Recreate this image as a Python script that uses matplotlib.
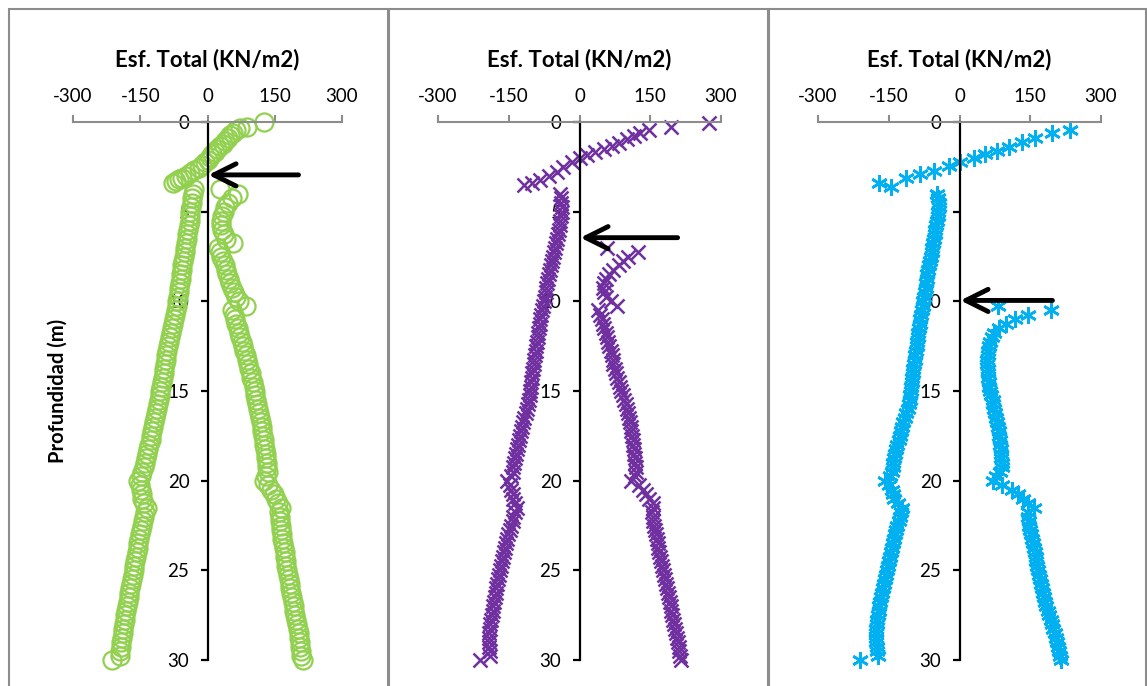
import matplotlib.pyplot as plt
from matplotlib.patches import Rectangle

plt.rcParams['font.family'] = ['Lato', 'DejaVu Sans']
plt.rcParams['axes.unicode_minus'] = False

# depth grid shared by the lower branches (m)
depth_grid = [3.75, 4.0, 4.25, 4.5, 4.75, 5.0, 5.25, 5.5, 5.75, 6.0,
              6.25, 6.5, 6.75, 7.0, 7.25, 7.5, 7.75, 8.0, 8.25, 8.5,
              8.75, 9.0, 9.25, 9.5, 9.75, 10.0, 10.25, 10.5, 10.75, 11.0,
              11.25, 11.5, 11.75, 12.0, 12.25, 12.5, 12.75, 13.0, 13.25, 13.5,
              13.75, 14.0, 14.25, 14.5, 14.75, 15.0, 15.25, 15.5, 15.75, 16.0,
              16.25, 16.5, 16.75, 17.0, 17.25, 17.5, 17.75, 18.0, 18.25, 18.5,
              18.75, 19.0, 19.25, 19.5, 19.75, 20.0, 20.25, 20.5, 20.75, 21.0,
              21.25, 21.5, 21.75, 22.0, 22.25, 22.5, 22.75, 23.0, 23.25, 23.5,
              23.75, 24.0, 24.25, 24.5, 24.75, 25.0, 25.25, 25.5, 25.75, 26.0,
              26.25, 26.5, 26.75, 27.0, 27.25, 27.5, 27.75, 28.0, 28.25, 28.5,
              28.75, 29.0, 29.25, 29.5, 29.75, 30.0]

# ---- panel 1 (green circles)
p1_top_depth = [0.0, 0.28, 0.35, 0.45, 0.6, 0.75, 0.9, 1.05, 1.2, 1.35, 1.5, 1.65,
                1.8, 1.95, 2.1, 2.25, 2.4, 2.55, 2.7, 2.85, 3.0, 3.1, 3.2, 3.3, 3.4]
p1_top_esf = [125, 89, 72, 64, 57, 51, 46, 40, 34, 28, 22, 16,
              10, 5, 0, -6, -13, -20, -29, -38, -47, -56, -63, -70, -78]
p1_left_esf = [-30, -33, -34, -35, -36, -38, -39, -40, -42, -43,
               -45, -46, -48, -50, -51, -53, -54, -56, -57, -59,
               -60, -62, -63, -64, -66, -67, -69, -71, -73, -75,
               -77, -79, -81, -84, -86, -88, -90, -92, -93, -95,
               -97, -98, -100, -102, -103, -105, -107, -109, -111, -113,
               -115, -117, -119, -121, -123, -125, -127, -130, -132, -135,
               -137, -140, -142, -145, -148, -154, -150, -148, -147, -145,
               -141, -136, -140, -142, -144, -146, -148, -150, -152, -154,
               -156, -158, -160, -161, -163, -165, -167, -169, -171, -173,
               -174, -176, -178, -180, -182, -183, -185, -186, -188, -189,
               -191, -193, -194, -195, -196, -213]
p1_right_esf = [28, 68, 55, 46, 40, 36, 33, 31, 31, 33,
                36, 41, 56, 24, 27, 30, 34, 38, 41, 44,
                47, 51, 55, 60, 64, 70, 85, 55, 58, 61,
                64, 67, 70, 73, 76, 79, 82, 85, 88, 91,
                93, 96, 98, 101, 103, 105, 107, 109, 111, 113,
                115, 117, 119, 121, 122, 124, 125, 127, 128, 130,
                131, 132, 133, 134, 130, 126, 136, 142, 148, 153,
                158, 163, 160, 161, 162, 163, 165, 166, 167, 169,
                170, 172, 173, 175, 176, 178, 180, 181, 183, 185,
                187, 188, 190, 192, 194, 196, 198, 200, 201, 203,
                204, 206, 207, 208, 209, 212]

# ---- panel 2 (purple crosses)
p2_top_depth = [0.07, 0.26, 0.45, 0.63, 0.78, 0.97, 1.15, 1.32, 1.5, 1.65,
                1.84, 2.03, 2.25, 2.49, 2.77, 3.0, 3.23, 3.38, 3.51]
p2_top_esf = [274, 193, 147, 129, 115, 101, 83, 69, 51, 33,
              16, 1, -16, -34, -48, -65, -83, -100, -118]
p2_left_esf = [-42, -40, -39, -38, -38, -39, -41, -42, -44, -46,
               -48, -50, -52, -54, -56, -58, -60, -62, -64, -66,
               -68, -70, -72, -74, -76, -78, -79, -81, -83, -84,
               -86, -87, -89, -90, -92, -93, -95, -96, -97, -99,
               -100, -101, -102, -103, -104, -106, -107, -109, -111, -114,
               -117, -120, -122, -124, -126, -128, -130, -132, -134, -136,
               -138, -140, -142, -145, -153, -148, -145, -142, -140, -137,
               -133, -137, -140, -142, -145, -148, -151, -153, -156, -159,
               -161, -163, -165, -167, -169, -171, -173, -174, -176, -178,
               -179, -181, -183, -184, -186, -188, -189, -190, -191, -191,
               -192, -192, -190, -189, -210]
p2_right_esf = [59, 125, 103, 92, 83, 72, 63, 56, 52, 50,
                51, 56, 66, 80, 40, 44, 47, 50, 53, 56,
                59, 61, 63, 66, 68, 70, 72, 75, 78, 80,
                83, 86, 89, 92, 95, 98, 101, 103, 105, 107,
                109, 110, 112, 113, 114, 115, 116, 117, 118, 119,
                119, 117, 110, 126, 134, 141, 148, 155, 156, 154,
                155, 156, 158, 160, 162, 164, 166, 167, 169, 171,
                173, 175, 177, 179, 181, 183, 185, 187, 189, 191,
                193, 195, 197, 199, 201, 203, 205, 207, 209, 210,
                212, 213, 215]

# ---- panel 3 (blue asterisks)
p3_top_depth = [0.45, 0.63, 0.87, 1.1, 1.38, 1.6, 1.78, 2.03, 2.25, 2.44,
                2.71, 2.9, 3.14, 3.38, 3.6]
p3_top_esf = [235, 196, 161, 133, 104, 80, 55, 30, 2, -23,
              -55, -83, -114, -171, -146]
p3_left_esf = [-47, -45, -44, -44, -45, -46, -48, -49, -51, -53,
               -54, -56, -58, -59, -61, -63, -64, -66, -68, -69,
               -71, -72, -74, -75, -77, -78, -80, -81, -83, -84,
               -86, -87, -88, -90, -91, -92, -94, -95, -96, -98,
               -99, -100, -101, -102, -103, -105, -106, -108, -110, -113,
               -116, -119, -122, -124, -127, -129, -132, -134, -136, -138,
               -140, -142, -144, -147, -157, -150, -143, -141, -139, -130,
               -121, -124, -127, -129, -132, -134, -137, -139, -141, -143,
               -146, -148, -150, -152, -154, -156, -158, -160, -162, -164,
               -166, -168, -170, -171, -173, -174, -175, -176, -177, -177,
               -176, -175, -174, -173, -210]
p3_right_esf = [81, 193, 146, 118, 98, 84, 73, 68, 65, 63,
                61, 60, 59, 59, 60, 60, 61, 62, 63, 65,
                67, 70, 72, 74, 76, 78, 80, 82, 83, 84,
                85, 86, 87, 88, 89, 90, 90, 86, 78, 72,
                90, 112, 124, 134, 146, 157, 146, 146, 147, 148,
                150, 152, 154, 156, 158, 160, 162, 163, 165, 167,
                169, 171, 173, 175, 177, 179, 182, 184, 187, 190,
                193, 196, 199, 202, 205, 207, 209, 211, 213, 215]

# arrows: (depth, tail value)
p1_arrow = (2.95, 203)
p2_arrow = (6.45, 208)
p3_arrow = (9.95, 197)

W, H = 1147, 686
fig = plt.figure(figsize=(W / 100, H / 100), dpi=100)

# chart frames
for x0, x1 in [(9, 388), (389, 768), (769, 1146)]:
    fig.add_artist(Rectangle((x0 / W, -0.02), (x1 - x0) / W, 1.02 - 9 / H,
                             transform=fig.transFigure, fill=False,
                             ec='#8c8c8c', lw=1.5))


def setup(ax):
    ax.set_xlim(-300, 300)
    ax.set_ylim(30, 0)
    ax.patch.set_alpha(0)
    ax.xaxis.tick_top()
    ax.set_xticks([-300, -150, 0, 150, 300])
    ax.set_yticks([0, 5, 10, 15, 20, 25, 30])
    ax.spines['right'].set_visible(False)
    ax.spines['bottom'].set_visible(False)
    ax.spines['top'].set_color('#8c8c8c')
    ax.spines['top'].set_linewidth(1.5)
    ax.spines['left'].set_position(('data', 0))
    ax.spines['left'].set_color('black')
    ax.spines['left'].set_linewidth(1.6)
    ax.tick_params(axis='x', direction='out', length=5, width=1.5,
                   color='#8c8c8c', labelsize=13.5, pad=7)
    ax.tick_params(axis='y', direction='out', length=5, width=1.6,
                   color='black', labelsize=13.5, pad=8)
    ax.text(0.5, (660 - 60) / 538, 'Esf. Total (KN/m2)', transform=ax.transAxes,
            ha='center', va='center', fontsize=16, fontweight='bold')


def arrow(ax, a):
    ax.annotate('', xy=(2, a[0]), xytext=(a[1], a[0]),
                arrowprops=dict(arrowstyle='->,head_length=0.4,head_width=0.2',
                                lw=3.5, color='black', mutation_scale=40,
                                shrinkA=0, shrinkB=0), zorder=5)


ax1 = fig.add_axes([73 / W, 1 - 660 / H, 269 / W, 538 / H])
ax2 = fig.add_axes([438 / W, 1 - 660 / H, 283 / W, 538 / H])
ax3 = fig.add_axes([818 / W, 1 - 660 / H, 283 / W, 538 / H])

green = dict(ls='none', marker='o', mfc='none', mec='#92D050', ms=13, mew=1.6, clip_on=False)
purple = dict(ls='none', marker='x', color='#7030A0', ms=10, mew=1.8, clip_on=False)
blue = dict(ls='none', marker=(6, 2, 0), color='#00B0F0', ms=12, mew=1.9, clip_on=False)

setup(ax1)
ax1.plot(p1_top_esf, p1_top_depth, **green)
ax1.plot(p1_left_esf, depth_grid, **green)
ax1.plot(p1_right_esf, depth_grid, **green)
arrow(ax1, p1_arrow)

setup(ax2)
ax2.plot(p2_top_esf, p2_top_depth, **purple)
ax2.plot(p2_left_esf, depth_grid[1:], **purple)
ax2.plot(p2_right_esf, depth_grid[13:], **purple)
arrow(ax2, p2_arrow)

setup(ax3)
ax3.plot(p3_top_esf, p3_top_depth, **blue)
ax3.plot(p3_left_esf, depth_grid[1:], **blue)
ax3.plot(p3_right_esf, depth_grid[26:], **blue)
arrow(ax3, p3_arrow)

fig.text(58 / W, 1 - 391 / H, 'Profundidad (m)', rotation=90, ha='center',
         va='center', fontsize=14.5, fontweight='bold')

fig.savefig('out.png', dpi=100)
